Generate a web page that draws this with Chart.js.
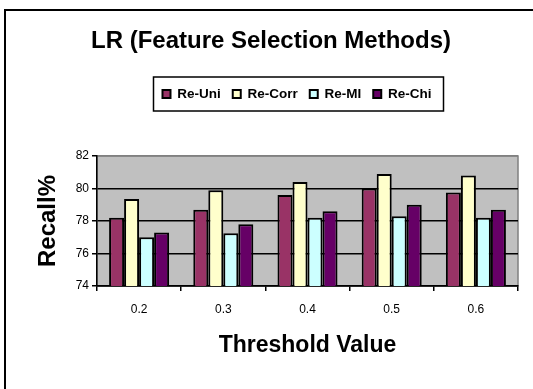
<!DOCTYPE html>
<html>
<head>
<meta charset="utf-8">
<title>LR (Feature Selection Methods)</title>
<script src="https://cdn.jsdelivr.net/npm/chart.js@4.4.1/dist/chart.umd.min.js"></script>
<style>
  html, body { margin: 0; padding: 0; background: #fff; }
  #chartBox { width: 533px; height: 389px; }
</style>
</head>
<body>
<div id="chartBox"><canvas id="lrChart" width="533" height="389"></canvas></div>
<script>
// values
const thresholds = ['0.2', '0.3', '0.4', '0.5', '0.6'];
const reUni = [78.2, 78.7, 79.6, 80.0, 79.75];
const reCorr = [79.35, 79.9, 80.4, 80.9, 80.8];
const reMI = [77.0, 77.25, 78.2, 78.3, 78.2];
const reChi = [77.3, 77.8, 78.6, 79.0, 78.7];
const seriesNames = ['Re-Uni', 'Re-Corr', 'Re-MI', 'Re-Chi'];
const seriesColors = ['#993366', '#FFFFCC', '#CCFFFF', '#660066'];
const yMin = 74, yMax = 82, yStep = 2;

Chart.defaults.font.family = "'Liberation Sans', Arial, sans-serif";
Chart.defaults.color = '#000';

// outer frame, grey plot area and the box around the legend
const framePlugin = {
    id: 'frame',
    afterLayout(chart) {
        // move the legend up and right, the space under it stays empty
        const lg = chart.legend;
        lg.left += 26;
        lg.right += 26;
        lg.top -= 45.25;
        lg.bottom -= 45.25;
    },
    beforeDraw(chart) {
        const ctx = chart.ctx;
        const a = chart.chartArea;
        ctx.save();
        ctx.fillStyle = '#fff';
        ctx.fillRect(0, 0, chart.width, chart.height);
        ctx.lineWidth = 2;
        ctx.strokeStyle = '#000';
        ctx.strokeRect(5, 10, chart.width, chart.height);
        ctx.fillStyle = '#c0c0c0';
        ctx.fillRect(a.left, a.top, a.right - a.left, a.bottom - a.top);
        ctx.lineWidth = 1.5;
        ctx.strokeStyle = '#808080';
        ctx.strokeRect(a.left, a.top, a.right - a.left, a.bottom - a.top);
        ctx.restore();
    },
    afterDraw(chart) {
        const boxes = chart.legend.legendHitBoxes;
        if (!boxes || !boxes.length) return;
        const first = boxes[0];
        const last = boxes[boxes.length - 1];
        const midY = first.top + first.height / 2;
        const ctx = chart.ctx;
        ctx.save();
        ctx.lineWidth = 1.5;
        ctx.strokeStyle = '#000';
        ctx.strokeRect(first.left - 9, midY - 17, last.left + last.width + 12 - (first.left - 9), 34);
        ctx.restore();
    }
};

const allSeries = [reUni, reCorr, reMI, reChi];
const datasets = allSeries.map((values, i) => ({
    label: seriesNames[i],
    data: values,
    backgroundColor: seriesColors[i],
    borderColor: '#000',
    borderWidth: 2,
    borderSkipped: false,
    barPercentage: 1,
    categoryPercentage: 0.713
}));

const ctx = document.getElementById('lrChart').getContext('2d');
const lrChart = new Chart(ctx, {
    type: 'bar',
    data: {
        labels: thresholds,
        datasets: datasets
    },
    options: {
        responsive: false,
        animation: false,
        devicePixelRatio: 1,
        layout: { padding: { left: 24, right: 15, top: 0, bottom: 0 } },
        plugins: {
            title: {
                display: true,
                text: 'LR (Feature Selection Methods)',
                color: '#000',
                font: { size: 24, weight: 'bold' },
                padding: { top: 27, bottom: 64.7 }
            },
            legend: {
                display: true,
                position: 'top',
                labels: {
                    color: '#000',
                    font: { size: 13.5, weight: 'bold' },
                    boxWidth: 8,
                    boxHeight: 8,
                    padding: 12
                }
            },
            tooltip: { enabled: false }
        },
        scales: {
            x: {
                grid: {
                    drawOnChartArea: false,
                    drawTicks: true,
                    tickLength: 5,
                    lineWidth: 1.5,
                    color: '#000'
                },
                border: { color: '#000', width: 1.5 },
                ticks: { color: '#000', font: { size: 12 }, padding: 11 },
                title: {
                    display: true,
                    text: 'Threshold Value',
                    color: '#000',
                    font: { size: 23, weight: 'bold' },
                    padding: { top: 0, bottom: 30 }
                },
                afterFit: function (scale) { scale.height = 103; }
            },
            y: {
                min: yMin,
                max: yMax,
                grid: {
                    color: c => (c.tick && c.tick.value === yMax) ? '#808080' : '#000',
                    tickColor: '#000',
                    tickLength: 5,
                    lineWidth: 1.5
                },
                border: { color: '#000', width: 1.5 },
                ticks: { stepSize: yStep, color: '#000', font: { size: 12 }, padding: 3 },
                title: {
                    display: true,
                    text: 'Recall%',
                    color: '#000',
                    font: { size: 24, weight: 'bold' },
                    padding: { top: 9.6, bottom: 0 }
                },
                afterFit: function (scale) { scale.width = 73; }
            }
        }
    },
    plugins: [framePlugin]
});
</script>
</body>
</html>
